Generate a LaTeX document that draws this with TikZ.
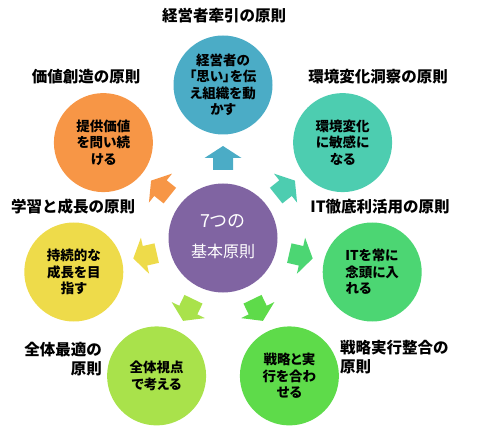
\documentclass[tikz,border=0pt]{standalone}
\usepackage{fontspec}
\newfontfamily\jp{Noto Sans CJK JP}
\newfontfamily\jpp{Noto Sans CJK JP}[RawFeature=+palt]
\usetikzlibrary{calc}
\definecolor{cpurple}{RGB}{128,100,162}
\definecolor{cblue}{RGB}{75,172,198}
\definecolor{corange}{RGB}{247,150,70}
\definecolor{cyellow}{RGB}{238,219,74}
\definecolor{clgreen}{RGB}{169,226,75}
\definecolor{cgreen}{RGB}{94,219,74}
\definecolor{citgreen}{RGB}{76,214,115}
\definecolor{cteal}{RGB}{77,205,176}
\begin{document}
\begin{tikzpicture}[x=1pt,y=1pt,
  circ/.style={circle, minimum size=99pt, inner sep=0pt, align=center, text=black,
    font=\jpp\bfseries\fontsize{13.5}{16.5}\selectfont},
  ctext/.style={inner sep=0pt, text=white, font=\jp\fontsize{16}{19}\selectfont},
  lbl/.style={inner sep=0pt, text=black, font=\jp\bfseries\fontsize{15.5}{18.5}\selectfont}]
\useasboundingbox (0,0) rectangle (484,426);
% centre
\node[circle, fill=cpurple, minimum size=109pt, inner sep=0pt] (c) at (223,188) {};
\node[ctext, font=\jp\fontsize{18}{20}\selectfont] (c1) at (223,205) {7つの};
\node[ctext] (c2) at (223,175) {基本原則};
% satellites
\node[circ, fill=cblue] (o1) at (223,341) {経営者の\\「思い」を伝\\え組織を動\\かす};
\node[circ, fill=corange] (o2) at (103.4,283.4) {提供価値\\を問い続\\ける};
\node[circ, fill=cyellow] (o3) at (73.8,154) {持続的な\\成長を目\\指す};
\node[circ, fill=clgreen] (o4) at (156.6,50.1) {全体視点\\で考える};
\node[circ, fill=cgreen] (o5) at (289.4,50.1) {戦略と実\\行を合わ\\せる};
\node[circ, fill=citgreen, align=left] (o6) at (372.2,154) {ITを常に\\念頭に入\\れる};
\node[circ, fill=cteal] (o7) at (342.6,283.4) {環境変化\\に敏感に\\なる};
% block arrows
\foreach \n/\a/\c in {o1/90/cblue, o2/141.43/corange, o3/192.86/cyellow,
    o4/244.29/clgreen, o5/295.71/cgreen, o6/347.14/citgreen, o7/38.57/cteal} {
  \fill[\c, shift={($(c)!80pt!(\n)$)}, rotate=\a]
    (-12,-10) -- (0,-10) -- (0,-18.5) -- (12,0) -- (0,18.5) -- (0,10) -- (-12,10) -- cycle;
}
% labels
\node[lbl] (l1) at (224,410) {経営者牽引の原則};
\node[lbl] (l2) at (86,349) {価値創造の原則};
\node[lbl] (l7) at (378,349) {環境変化洞察の原則};
\node[lbl] (l3) at (73,219) {学習と成長の原則};
\node[lbl] (l6) at (380,219) {IT徹底利活用の原則};
\node[lbl, align=right, anchor=east] (l4) at (102,67) {全体最適の\\原則};
\node[lbl, align=left, anchor=west] (l5) at (340,69) {戦略実行整合の\\原則};
\end{tikzpicture}
\end{document}
